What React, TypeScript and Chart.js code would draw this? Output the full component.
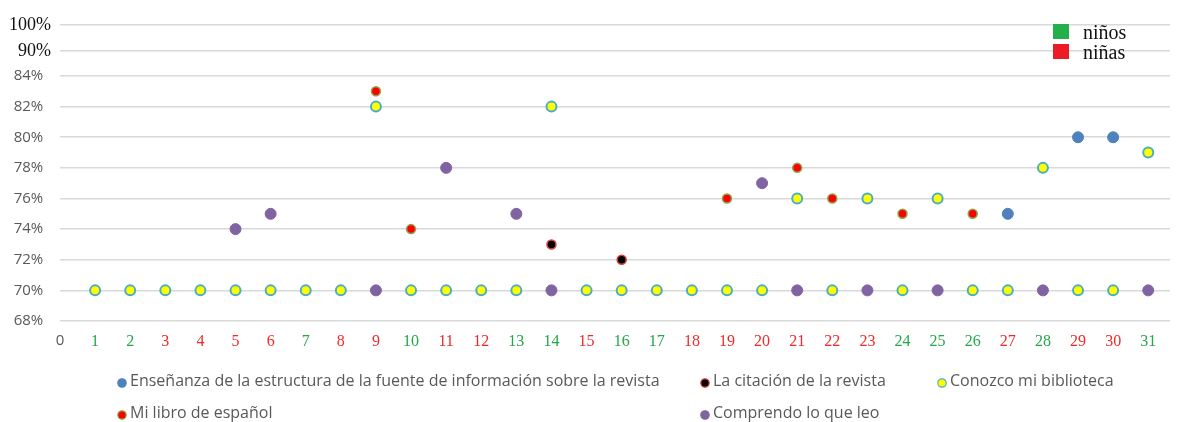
import { useEffect, useRef } from "react";
import { Chart, registerables } from "chart.js";

Chart.register(...registerables);

// ---- data ----
const xTickValues = [0, 1, 2, 3, 4, 5, 6, 7, 8, 9, 10, 11, 12, 13, 14, 15, 16, 17, 18, 19, 20, 21, 22, 23, 24, 25, 26, 27, 28, 29, 30, 31];
const ninosDays = [1, 2, 7, 10, 13, 14, 16, 17, 24, 25, 26, 28, 31];

const yTickValues = [68, 70, 72, 74, 76, 78, 80, 82, 84, 85.63, 87.33];
const yTickLabels = ["68%", "70%", "72%", "74%", "76%", "78%", "80%", "82%", "84%", "90%", "100%"];

const seriesNames = [
  "Enseñanza de la estructura de la fuente de información sobre la revista",
  "La citación de la revista",
  "Conozco mi biblioteca",
  "Mi libro de español",
  "Comprendo lo que leo",
];

const ensenanzaDays = [27, 29, 30];
const ensenanzaValues = [75, 80, 80];

const citacionDays = [14, 16];
const citacionValues = [73, 72];

const bibliotecaDays = [1, 2, 3, 4, 5, 6, 7, 8, 9, 10, 11, 12, 13, 14, 15, 16, 17, 18, 19, 20, 21, 22, 23, 24, 25, 26, 27, 28, 29, 30, 31];
const bibliotecaValues = [70, 70, 70, 70, 70, 70, 70, 70, 82, 70, 70, 70, 70, 82, 70, 70, 70, 70, 70, 70, 76, 70, 76, 70, 76, 70, 70, 78, 70, 70, 79];

const libroDays = [9, 10, 19, 21, 22, 24, 26];
const libroValues = [83, 74, 76, 78, 76, 75, 75];

const comprendoDays = [5, 6, 9, 11, 13, 14, 20, 21, 23, 25, 28, 31];
const comprendoValues = [74, 75, 70, 78, 75, 70, 77, 70, 70, 70, 70, 70];

const genderLabels = ["niños", "niñas"];
const genderColors = ["#22b04b", "#ed1c24"];

const zip = (xs: number[], ys: number[]) => xs.map((x, i) => ({ x, y: ys[i] }));

export default function App() {
  const ref = useRef<HTMLCanvasElement | null>(null);

  useEffect(() => {
    if (!ref.current) return;

    const bottomLegend = {
      id: "bottomLegend",
      afterDraw(chart: any) {
        const ctx = chart.ctx;
        const cols = [122, 705, 942];
        const rows = [381, 413];
        const slots = [
          [0, 0],
          [1, 0],
          [2, 0],
          [0, 1],
          [1, 1],
        ];
        ctx.save();
        ctx.font = "16px 'Open Sans'";
        ctx.textBaseline = "middle";
        ctx.textAlign = "left";
        chart.data.datasets.forEach((ds: any, i: number) => {
          const [c, r] = slots[i];
          const x = cols[c];
          const y = rows[r];
          ctx.beginPath();
          ctx.arc(x, y + 2, 4.2, 0, Math.PI * 2);
          ctx.fillStyle = ds.backgroundColor;
          ctx.fill();
          ctx.lineWidth = 1.2;
          ctx.strokeStyle = ds.borderColor;
          ctx.stroke();
          ctx.fillStyle = "#595959";
          ctx.fillText(ds.label, x + 8, y);
        });
        ctx.restore();
      },
    };

    const genderLegend = {
      id: "genderLegend",
      afterDraw(chart: any) {
        const ctx = chart.ctx;
        ctx.save();
        ctx.font = "20px 'Liberation Serif'";
        ctx.textBaseline = "middle";
        ctx.textAlign = "left";
        genderLabels.forEach((lab, i) => {
          const y = 24 + i * 20;
          ctx.fillStyle = genderColors[i];
          ctx.fillRect(1053, y, 16, 15);
          ctx.fillStyle = "#111";
          ctx.fillText(lab, 1083, y + 10);
        });
        ctx.restore();
      },
    };

    const chart = new Chart(ref.current, {
      type: "scatter",
      data: {
        datasets: [
          {
            label: seriesNames[0],
            data: zip(ensenanzaDays, ensenanzaValues),
            backgroundColor: "#4f81bd",
            borderColor: "#4f81bd",
            borderWidth: 1,
            pointRadius: 5.5,
            order: 5,
          },
          {
            label: seriesNames[1],
            data: zip(citacionDays, citacionValues),
            backgroundColor: "#000000",
            borderColor: "#e0403a",
            borderWidth: 1.5,
            pointRadius: 4.5,
            order: 4,
          },
          {
            label: seriesNames[2],
            data: zip(bibliotecaDays, bibliotecaValues),
            backgroundColor: "#ffff00",
            borderColor: "#4bacc6",
            borderWidth: 2,
            pointRadius: 5,
            order: 3,
          },
          {
            label: seriesNames[3],
            data: zip(libroDays, libroValues),
            backgroundColor: "#ff0000",
            borderColor: "#8aa84a",
            borderWidth: 1.5,
            pointRadius: 4.5,
            order: 2,
          },
          {
            label: seriesNames[4],
            data: zip(comprendoDays, comprendoValues),
            backgroundColor: "#8064a2",
            borderColor: "#8064a2",
            borderWidth: 1,
            pointRadius: 5.5,
            order: 1,
          },
        ],
      },
      options: {
        animation: false,
        responsive: false,
        events: [],
        layout: { padding: { top: 25, right: 0, left: 0, bottom: 0 } },
        plugins: {
          legend: { display: false },
          tooltip: { enabled: false },
        },
        scales: {
          x: {
            type: "linear",
            min: 0,
            max: 31.62,
            afterBuildTicks: (scale: any) => {
              scale.ticks = xTickValues.map((v) => ({ value: v }));
            },
            afterFit: (scale: any) => {
              scale.height = 101;
            },
            grid: { display: false },
            border: { display: false },
            ticks: {
              padding: 3,
              maxRotation: 0,
              autoSkip: false,
              callback: (v: any) => String(v),
              color: (c: any) => {
                const v = c.tick?.value;
                if (v === 0) return "#595959";
                return ninosDays.includes(v) ? "#22a84a" : "#ee2a2a";
              },
              font: (c: any) => {
                const v = c.tick?.value;
                if (v === 0) return { family: "'Open Sans'", size: 15 };
                return { family: "'Liberation Serif'", size: 16 };
              },
            },
          },
          y: {
            type: "linear",
            min: 68,
            max: 87.33,
            afterBuildTicks: (scale: any) => {
              scale.ticks = yTickValues.map((v) => ({ value: v }));
            },
            afterFit: (scale: any) => {
              scale.width = 60;
            },
            grid: { color: "#d9d9d9", lineWidth: 1.5, drawTicks: false },
            border: { display: false },
            ticks: {
              padding: 9,
              autoSkip: false,
              callback: (v: any) => {
                const i = yTickValues.indexOf(Number(v));
                if (i < 0) return "";
                return i >= 9 ? yTickLabels[i] : yTickLabels[i] + "  ";
              },
              color: (c: any) => (c.index >= 9 ? "#111" : "#595959"),
              font: (c: any) =>
                c.index >= 9
                  ? { family: "'Liberation Serif'", size: 18 }
                  : { family: "'Open Sans'", size: 15 },
            },
          },
        },
      },
      plugins: [bottomLegend, genderLegend],
    } as any);

    return () => chart.destroy();
  }, []);

  return (
    <div style={{ position: "fixed", left: 0, top: 0, width: 1177, height: 422, background: "#fff" }}>
      <canvas ref={ref} width={1177} height={422} style={{ display: "block" }} />
    </div>
  );
}
